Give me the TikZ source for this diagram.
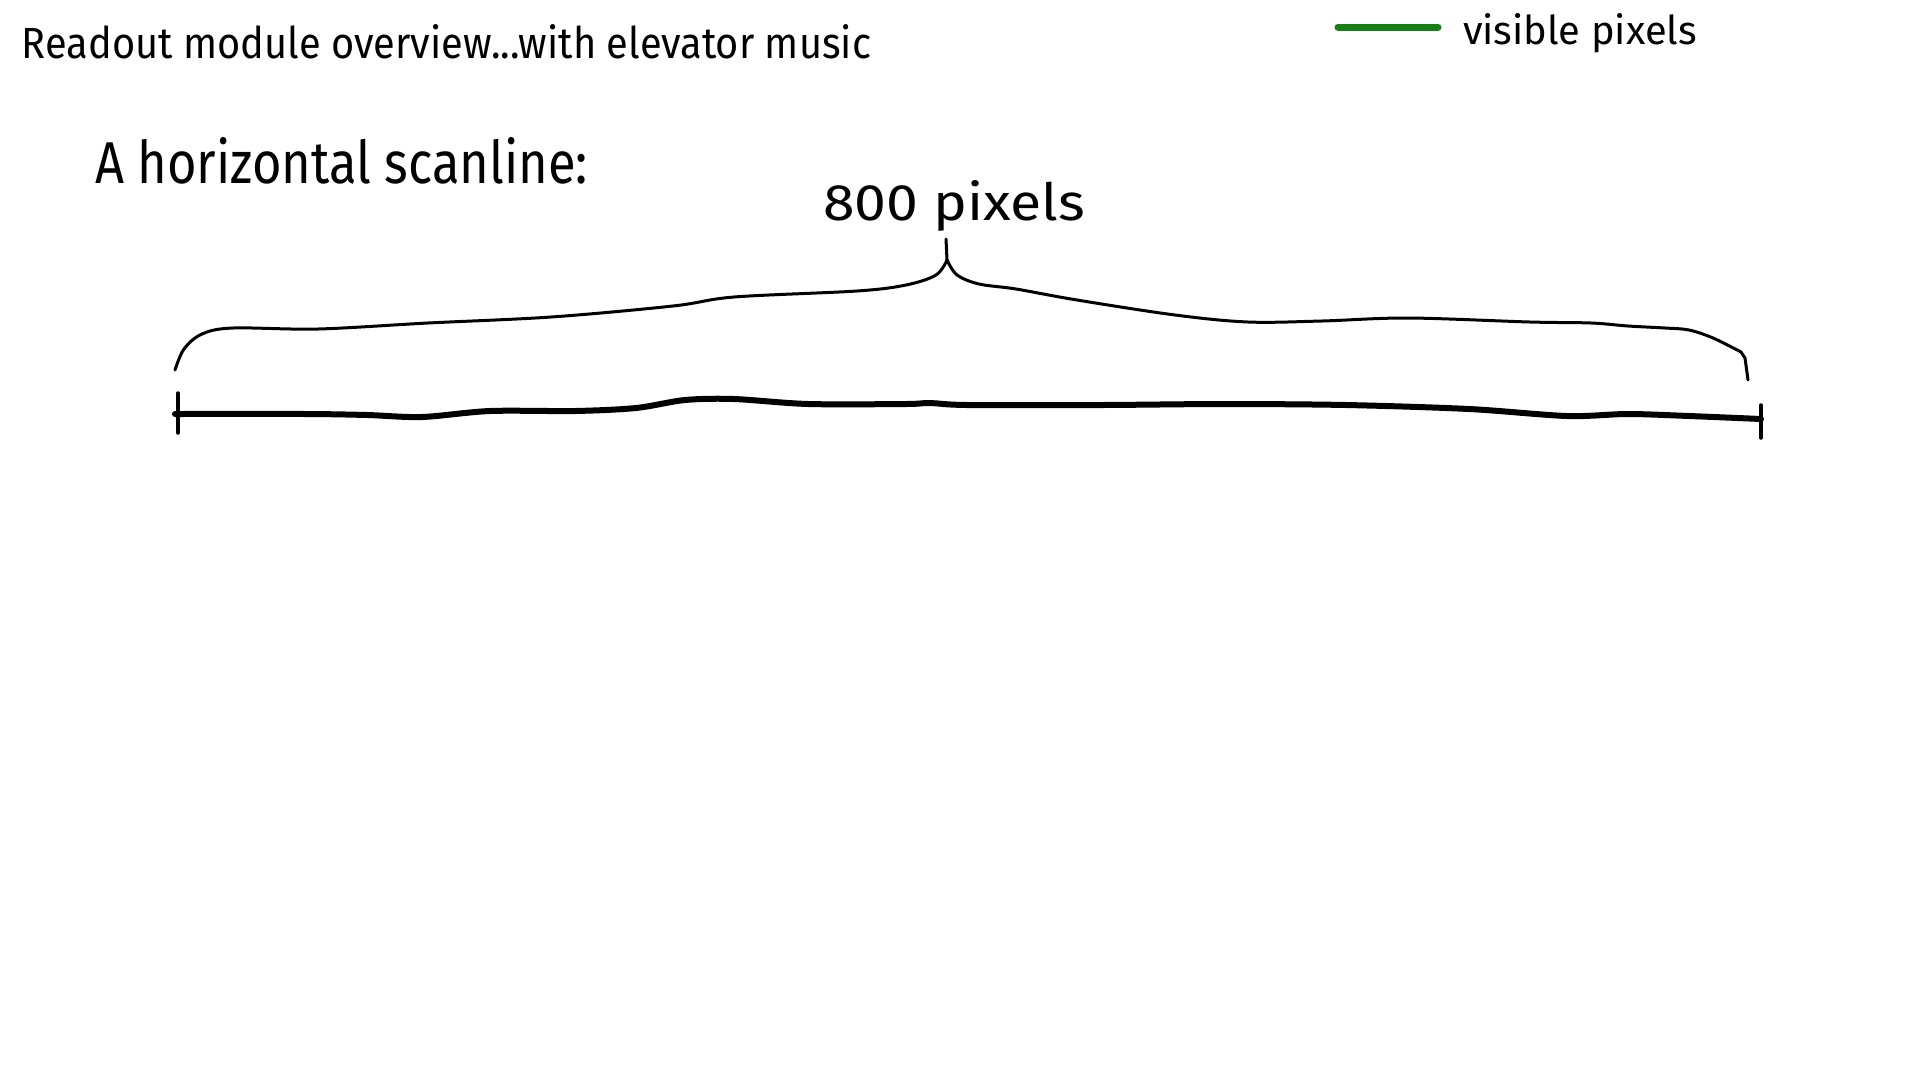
\documentclass[tikz,border=0pt]{standalone}
\usepackage{fontspec}
\usepackage{graphicx}
\setmainfont{Fira Sans}
\newcommand{\hwtext}[3]{\resizebox{#1}{#2}{#3}}
\definecolor{legendgreen}{RGB}{22,128,22}
\tikzset{
  pen/.style={line width=3pt, line cap=round, line join=round, black},
  thickpen/.style={line width=6pt, line cap=round, line join=round, black},
  tickpen/.style={line width=3.5pt, line cap=round, black},
  greenpen/.style={line width=7pt, line cap=round, legendgreen},
  label/.style={inner sep=0pt, outer sep=0pt, anchor=base west}
}
\begin{document}
\begin{tikzpicture}[x=1pt, y=-1pt]
\useasboundingbox (0,0) rectangle (1919,1080);
\fill[white] (0,0) rectangle (1919,1080);
% title
\node[label] (title) at (22,58) {\hwtext{849pt}{34pt}{Readout module overview...with elevator music}};
% legend
\coordinate (lgA) at (1338,27);
\coordinate (lgB) at (1438,27);
\draw[greenpen] (lgA) -- (lgB);
\node[label] (lgtext) at (1463,44) {\hwtext{234pt}{31pt}{visible pixels}};
% heading
\node[label] (heading) at (95,183) {\hwtext{493pt}{46pt}{A horizontal scanline:}};
% brace label
\node[label] (count) at (823,220) {\hwtext{262pt}{40pt}{800 pixels}};
% brace
\draw[pen] plot[smooth, tension=0.55] coordinates {
  (175,370) (184,349) (202,334) (233,328) (318,329) (428,323) (551,317)
  (673,306) (734,297) (857,291) (906,285) (936,275) (947,260)};
\draw[pen] plot[smooth, tension=0.55] coordinates {
  (947,260) (957,275) (979,284) (1016,289) (1077,300) (1175,315) (1248,322)
  (1322,321) (1408,318) (1530,322) (1591,323) (1628,326) (1665,328)
  (1689,330) (1713,338) (1741,352)};
\draw[pen] (1741,352) -- (1745,358) -- (1748,380);
\draw[pen] (947,260) -- (946,239);
% scanline
\draw[thickpen] plot[smooth, tension=0.5] coordinates {
  (175,414) (306,414) (367,415) (422,417) (490,411) (575,411) (636,408)
  (685,400) (734,399) (808,404) (906,404) (930,403) (967,405) (1102,405)
  (1224,404) (1346,405) (1469,409) (1567,416) (1628,414) (1689,416) (1761,419)};
\coordinate (tlA) at (178,393);
\coordinate (tlB) at (178,433);
\coordinate (trA) at (1761,405);
\coordinate (trB) at (1761,438);
\draw[tickpen] (tlA) -- (tlB);
\draw[tickpen] (trA) -- (trB);
\end{tikzpicture}
\end{document}
